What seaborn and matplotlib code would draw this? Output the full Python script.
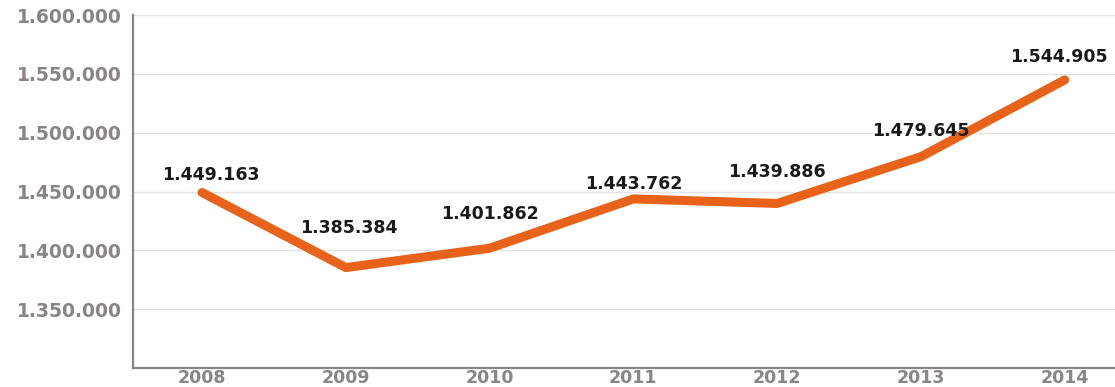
import matplotlib
matplotlib.use("Agg")
import matplotlib.pyplot as plt
import seaborn as sns
import pandas as pd
from matplotlib.ticker import FuncFormatter

years = [2008, 2009, 2010, 2011, 2012, 2013, 2014]
values = [1449163, 1385384, 1401862, 1443762, 1439886, 1479645, 1544905]
value_labels = ["1.449.163", "1.385.384", "1.401.862", "1.443.762", "1.439.886", "1.479.645", "1.544.905"]
y_ticks = [1350000, 1400000, 1450000, 1500000, 1550000, 1600000]

df = pd.DataFrame({"year": years, "value": values})

sns.set_theme(style="white")
plt.rcParams['font.family'] = ['DejaVu Sans']

fig = plt.figure(figsize=(11.15, 3.87), dpi=100)
ax = fig.add_axes([0.1193, 0.049, 0.8807, 0.912])

grey = "#8a8584"
orange = "#e8621a"

sns.lineplot(data=df, x="year", y="value", ax=ax, color=orange, linewidth=6.5,
             solid_capstyle="round", solid_joinstyle="round", zorder=3)

label_offsets = [(6, 6), (2, 22), (0, 18), (0, 4), (0, 16), (0, 12), (-4, 10)]
for x, y, t, off in zip(years, values, value_labels, label_offsets):
    ax.annotate(t, (x, y), xytext=off, textcoords="offset points",
                ha="center", va="bottom", fontsize=12.5, fontweight="bold",
                color="#1a1a1a", zorder=4, annotation_clip=False)

ax.set_ylim(1300000, 1600000)
ax.set_xlim(2007.52, 2014.35)
ax.set_yticks(y_ticks)
ax.set_xticks(years)
ax.yaxis.set_major_formatter(FuncFormatter(lambda v, p: f"{int(v):,}".replace(",", ".")))
ax.grid(axis="y", color="#e4e4e4", linewidth=1.0)
ax.grid(axis="x", visible=False)
ax.set_xlabel("")
ax.set_ylabel("")

for s in ["top", "right"]:
    ax.spines[s].set_visible(False)
for s in ["left", "bottom"]:
    ax.spines[s].set_color(grey)
    ax.spines[s].set_linewidth(1.6)

ax.tick_params(axis="y", length=0, pad=8, labelsize=13.5, labelcolor=grey)
ax.tick_params(axis="x", length=0, pad=1, labelsize=12.5, labelcolor=grey)
for lab in ax.get_xticklabels() + ax.get_yticklabels():
    lab.set_fontweight("bold")

fig.savefig("out.png", dpi=100)
